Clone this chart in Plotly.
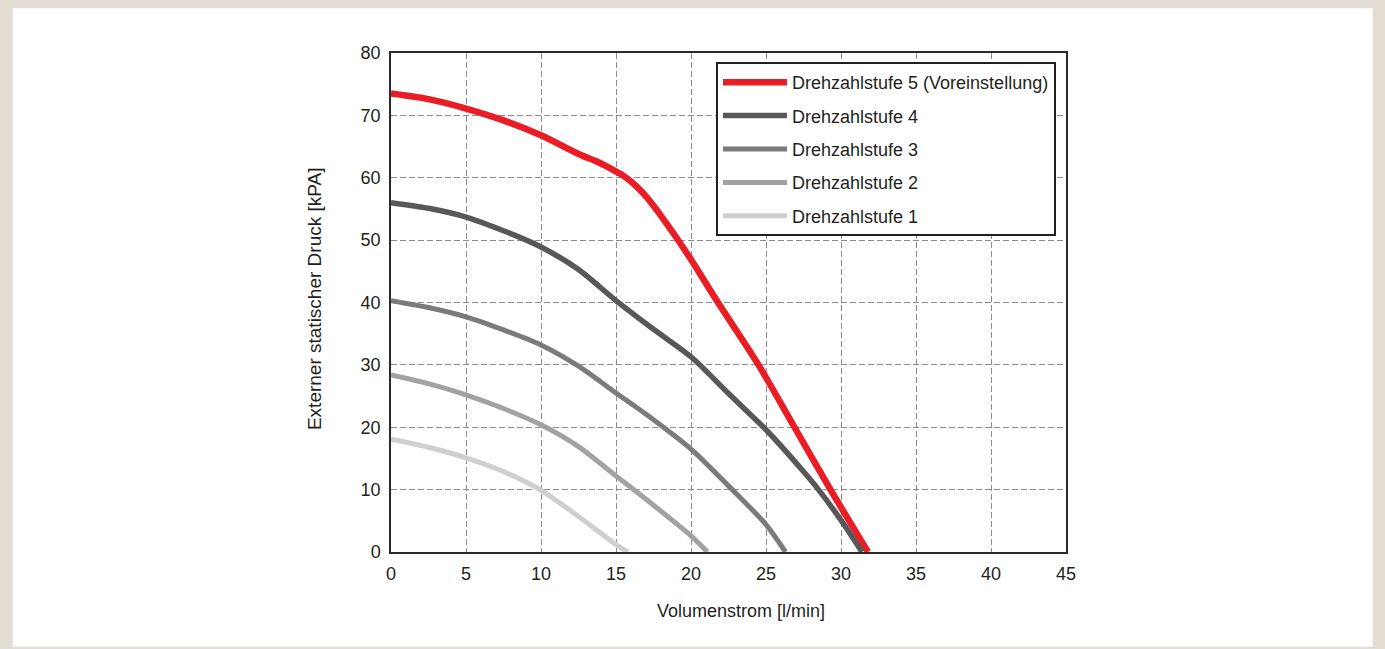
import plotly.graph_objects as go

# ---- data ----
names = ["Drehzahlstufe 5 (Voreinstellung)", "Drehzahlstufe 4", "Drehzahlstufe 3",
         "Drehzahlstufe 2", "Drehzahlstufe 1"]

s5_x = [0, 2.5, 5, 7.5, 10, 12.5, 13.9, 15, 15.5, 16, 16.5, 17, 17.5, 18, 19, 20, 21.8, 24.5, 26.9, 29.3, 31.8]
s5_y = [73.5, 72.6, 71.1, 69.2, 66.8, 63.8, 62.4, 61.0, 60.3, 59.4, 58.3, 57.0, 55.5, 53.9, 50.5, 46.9, 40, 30, 20, 10, 0]

s4_x = [0, 2.5, 5, 7.5, 10, 12.5, 15, 17.5, 20, 22.5, 25, 27.5, 28.5, 30, 31.4]
s4_y = [56.0, 55.1, 53.7, 51.5, 48.9, 45.3, 40.3, 35.7, 31.3, 25.4, 19.6, 12.9, 10.0, 5.1, 0]

s3_x = [0, 2.5, 5, 7.5, 10, 12.5, 15, 17.5, 20, 22.5, 25, 26.3]
s3_y = [40.3, 39.2, 37.7, 35.6, 33.2, 29.8, 25.5, 21.2, 16.5, 10.6, 4.4, 0]

s2_x = [0, 2.5, 5, 7.5, 10, 12.5, 15, 17.5, 20, 21.1]
s2_y = [28.4, 27.0, 25.2, 23.0, 20.4, 16.9, 12.2, 7.5, 2.6, 0]

s1_x = [0, 2.5, 5, 7.5, 10, 12.5, 15, 15.8]
s1_y = [18.1, 16.8, 15.1, 12.9, 9.9, 5.7, 1.2, 0]

x_ticks = [0, 5, 10, 15, 20, 25, 30, 35, 40, 45]
y_ticks = [0, 10, 20, 30, 40, 50, 60, 70, 80]

series = [(s5_x, s5_y), (s4_x, s4_y), (s3_x, s3_y), (s2_x, s2_y), (s1_x, s1_y)]
colors = ["#e91d25", "#58585a", "#7b7b7e", "#a2a2a5", "#cfcfd1"]
widths = [6.5, 5.5, 5, 5, 5]

FONT = "Liberation Sans, Arial, sans-serif"

fig = go.Figure()
for i, ((xs, ys), nm) in enumerate(zip(series, names)):
    fig.add_trace(go.Scatter(
        x=xs, y=ys, name=nm, mode="lines",
        line=dict(color=colors[i], width=widths[i], shape="spline", smoothing=0.8),
        legendgroup=f"g{i}",
    ))

axis_common = dict(
    showline=True, linecolor="#2a2a2a", linewidth=1.5, mirror=True,
    showgrid=True, gridcolor="#8c8c8c", gridwidth=1, griddash="6px,3px",
    zeroline=False, ticks="", tickfont=dict(family=FONT, size=18, color="#231f20"),
)

fig.update_xaxes(range=[0, 45], tickvals=x_ticks, ticklabelstandoff=5, **axis_common)
fig.update_yaxes(range=[0, 80], tickvals=y_ticks, ticklabelstandoff=5, **axis_common)

fig.update_layout(
    width=1385, height=649,
    margin=dict(l=391, r=319, t=53, b=97),
    paper_bgcolor="#e2dcd2",
    plot_bgcolor="white",
    font=dict(family=FONT, size=18, color="#231f20"),
    showlegend=True,
    legend=dict(
        x=0.4815, y=0.982, xanchor="left", yanchor="top",
        bgcolor="white", bordercolor="#231f20", borderwidth=2,
        font=dict(family=FONT, size=18, color="#231f20"),
        tracegroupgap=7, traceorder="grouped", itemwidth=64,
    ),
    shapes=[dict(type="rect", xref="paper", yref="paper",
                 x0=-0.5604, x1=1.4544, y0=-0.1898, y1=1.0896,
                 fillcolor="white", line=dict(width=0), layer="below")],
    annotations=[
        dict(text="Volumenstrom [l/min]", xref="paper", yref="paper",
             x=0.5185, y=-0.1182, showarrow=False, xanchor="center", yanchor="middle",
             font=dict(family=FONT, size=18, color="#231f20")),
        dict(text="Externer statischer Druck [kPA]", xref="paper", yref="paper",
             x=-0.114, y=0.507, showarrow=False, textangle=-90,
             xanchor="center", yanchor="middle",
             font=dict(family=FONT, size=19, color="#231f20")),
    ],
)

fig.write_html("out.html",
               config={"displayModeBar": False},
               post_script="document.body.style.margin='0';document.body.style.overflow='hidden';")
